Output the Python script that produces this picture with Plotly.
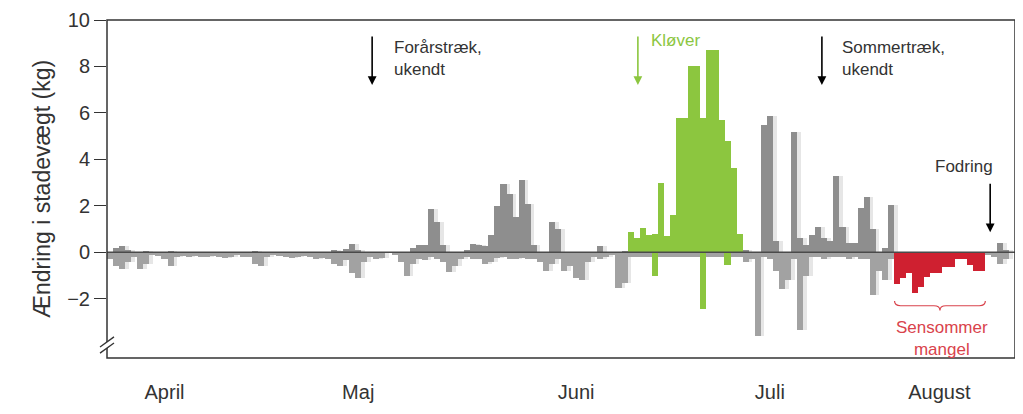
import plotly.graph_objects as go

# daglig tilvækst (kg) og dagligt tab (kg), dag 0 = 1. april
gain = [
    0, 0.2, 0.25, 0.1, 0, 0, 0.05, 0, 0, 0,
    0.05, 0, 0, 0, 0, 0, 0, 0, 0, 0,
    0, 0, 0, 0, 0.05, 0, 0, 0, 0, 0,
    0, 0, 0, 0, 0, 0, 0, 0.1, 0.05, 0.15,
    0.35, 0.1, 0, 0, 0, 0, 0, 0, 0, 0,
    0.2, 0.3, 0.3, 1.85, 1.3, 0.3, 0, 0, 0, 0.1,
    0.35, 0.3, 0.25, 0.75, 2.0, 2.95, 2.5, 1.5, 3.1, 2.1,
    0.3, 0, 0, 1.3, 1.0, 0, 0, 0, 0, 0,
    0, 0.25, 0, 0, 0, 0.05, 0.87, 0.6, 1.05, 0.75,
    0.8, 3.0, 0.7, 1.6, 5.8, 5.8, 8.0, 8.0, 5.8, 8.7,
    8.7, 5.7, 4.8, 3.65, 0.8, 0.1, 0, 0, 5.5, 5.85,
    0.5, 0, 0, 5.2, 0.6, 0.3, 0.75, 1.1, 0.6, 0.5,
    3.3, 1.1, 0.4, 0.4, 1.9, 2.4, 1.0, 0, 0.2, 2.05,
    0, 0, 0, 0, 0, 0, 0, 0, 0, 0,
    0, 0, 0, 0, 0, 0, 0, 0.4, 0.1, 0,
]
loss = [
    -0.3, -0.6, -0.7, -0.4, -0.2, -0.7, -0.5, -0.1, -0.15, -0.3,
    -0.6, -0.2, -0.15, -0.2, -0.15, -0.2, -0.2, -0.15, -0.2, -0.25,
    -0.2, -0.1, -0.2, -0.2, -0.5, -0.6, -0.2, -0.1, -0.15, -0.2,
    -0.25, -0.2, -0.15, -0.2, -0.3, -0.25, -0.3, -0.5, -0.6, -0.35,
    -0.9, -1.1, -0.4, -0.2, -0.3, -0.25, 0, -0.1, -0.4, -1.0,
    -0.5, -0.3, -0.35, -0.2, -0.3, -0.4, -0.85, -0.6, -0.3, -0.2,
    -0.3, -0.3, -0.5, -0.4, -0.25, -0.2, -0.3, -0.3, -0.25, -0.3,
    -0.3, -0.4, -0.8, -0.5, -0.3, -0.8, -0.6, -1.1, -1.2, -0.4,
    -0.2, -0.3, -0.2, -0.1, -1.55, -1.3, -0.2, -0.2, -0.2, -0.2,
    -1.0, -0.2, -0.2, -0.2, -0.2, -0.2, -0.2, -0.2, -2.45, -0.2,
    -0.2, -0.2, -0.55, -0.2, -0.2, -0.4, -0.3, -3.6, -0.2, -0.3,
    -0.8, -1.6, -1.2, -0.3, -3.35, -1.0, -0.2, -0.2, -0.3, -0.2,
    -0.2, -0.2, -0.3, -0.2, -0.3, -0.3, -1.85, -0.8, -1.2, -0.3,
    -1.35, -1.1, -0.9, -1.75, -1.5, -1.05, -0.9, -0.9, -0.65, -0.65,
    -0.3, -0.3, -0.55, -0.8, -0.8, -0.1, -0.2, -0.5, -0.3, 0,
]
days = list(range(len(gain)))

klover_days = range(86, 105)   # kløvertræk
mangel_days = range(130, 145)  # sensommer mangel

month_pos = [9, 41, 77, 109, 137]
month_names = ["April", "Maj", "Juni", "Juli", "August"]
y_ticks = [-2, 0, 2, 4, 6, 8, 10]

GREY_UP = "#8e8e8e"
GREY_DOWN = "#a2a2a2"
GREEN = "#8cc63f"
RED = "#cf2030"
FONT = "Liberation Sans, Arial, sans-serif"

grey_gain = [g if d not in klover_days else 0 for d, g in zip(days, gain)]
green_gain = [g if d in klover_days else 0 for d, g in zip(days, gain)]
grey_loss, green_loss, red_loss = [], [], []
for d, v in zip(days, loss):
    if d in mangel_days:
        grey_loss.append(0); green_loss.append(0); red_loss.append(v)
    elif d in klover_days and v <= -0.5:
        grey_loss.append(0); green_loss.append(v); red_loss.append(0)
    else:
        grey_loss.append(v); green_loss.append(0); red_loss.append(0)

fig = go.Figure()
# slør/skygge bag de grå søjler
for vals in (grey_gain, grey_loss):
    fig.add_trace(go.Bar(x=days, y=vals, width=1.5, offset=-0.4,
                         marker=dict(color="rgba(165,165,165,0.28)", line_width=0),
                         hoverinfo="skip"))
fig.add_trace(go.Bar(x=days, y=grey_gain, width=1.0, offset=-0.5,
                     marker=dict(color=GREY_UP, line_width=0)))
fig.add_trace(go.Bar(x=days, y=grey_loss, width=1.0, offset=-0.5,
                     marker=dict(color=GREY_DOWN, line_width=0)))
for vals in (green_gain, green_loss):
    fig.add_trace(go.Bar(x=days, y=vals, width=1.02, offset=-0.5,
                         marker=dict(color=GREEN, line_width=0)))
fig.add_trace(go.Bar(x=days, y=red_loss, width=1.02, offset=-0.5,
                     marker=dict(color=RED, line_width=0)))

# nullinje
fig.add_shape(type="line", xref="paper", x0=0, x1=1, y0=0, y1=0,
              line=dict(color="#4a4a4a", width=1.5), layer="above")

# ramme
fig.add_shape(type="rect", xref="paper", yref="paper", x0=0, x1=1, y0=0, y1=1,
              line=dict(color="#333", width=1.5), layer="above")

# akse-brud
fig.add_shape(type="rect", xref="paper", xsizemode="pixel", xanchor=0,
              x0=-3, x1=3, y0=-4.12, y1=-3.86, fillcolor="white",
              line_width=0, layer="above")
for yc in (-3.86, -4.12):
    fig.add_shape(type="line", xref="paper", xsizemode="pixel", xanchor=0,
                  x0=-7, x1=7, y0=yc - 0.22, y1=yc + 0.22,
                  line=dict(color="#333", width=1.3), layer="above")

# klamme under mangel-perioden
x0, x1, xm, yb = 129.6, 144.6, 137.1, -2.3
fig.add_shape(type="path", line=dict(color="#d9434c", width=1.2),
              path=(f"M {x0},{yb + 0.2} Q {x0},{yb} {x0 + 1},{yb} L {xm - 1},{yb} "
                    f"Q {xm},{yb} {xm},{yb - 0.2} Q {xm},{yb} {xm + 1},{yb} "
                    f"L {x1 - 1},{yb} Q {x1},{yb} {x1},{yb + 0.2}"))

arrows = [(43.3, 7.2, "black"), (87.2, 7.2, GREEN), (117.6, 7.2, "black"), (145.4, 0.86, "black")]
for ax_x, ax_y, col in arrows:
    fig.add_annotation(x=ax_x, y=ax_y, ax=0, ay=-50, text="", showarrow=True,
                       arrowhead=2, arrowsize=1.1, arrowwidth=1.6, arrowcolor=col)

notes = [
    (46.6, 9.3, "Forårstræk,<br>ukendt", "#333", "left"),
    (89.0, 9.6, "Kløver", GREEN, "left"),
    (120.6, 9.3, "Sommertræk,<br>ukendt", "#333", "left"),
    (141.0, 4.2, "Fodring", "#333", "center"),
    (137.4, -2.75, "Sensommer<br>mangel", "#d9434c", "center"),
]
for nx, ny, txt, col, al in notes:
    fig.add_annotation(x=nx, y=ny, text=txt, showarrow=False, align=al,
                       xanchor=al, yanchor="top",
                       font=dict(family=FONT, size=17, color=col))

# siden har 8 px kant, så figuren gøres tilsvarende mindre
fig.update_layout(
    width=1015, height=406,
    margin=dict(l=99, r=8, t=12, b=56, autoexpand=False),
    paper_bgcolor="white", plot_bgcolor="white",
    barmode="overlay", showlegend=False, bargap=0,
    font=dict(family=FONT, size=20, color="#333"),
)
fig.update_xaxes(range=[-0.5, 149.5], tickvals=month_pos, ticktext=month_names,
                 ticks="outside", ticklen=16, tickcolor="rgba(0,0,0,0)",
                 showgrid=False, zeroline=False, showline=False,
                 tickfont=dict(size=20), automargin=False)
fig.update_yaxes(range=[-4.55, 10], tickvals=y_ticks, ticks="outside", ticklen=12,
                 tickcolor="#333", tickwidth=1.3, showgrid=False, zeroline=False,
                 showline=False, tickfont=dict(size=20), automargin=False,
                 title=dict(text="Ændring i stadevægt (kg)", font=dict(size=23), standoff=10))

fig.write_html("out.html")
